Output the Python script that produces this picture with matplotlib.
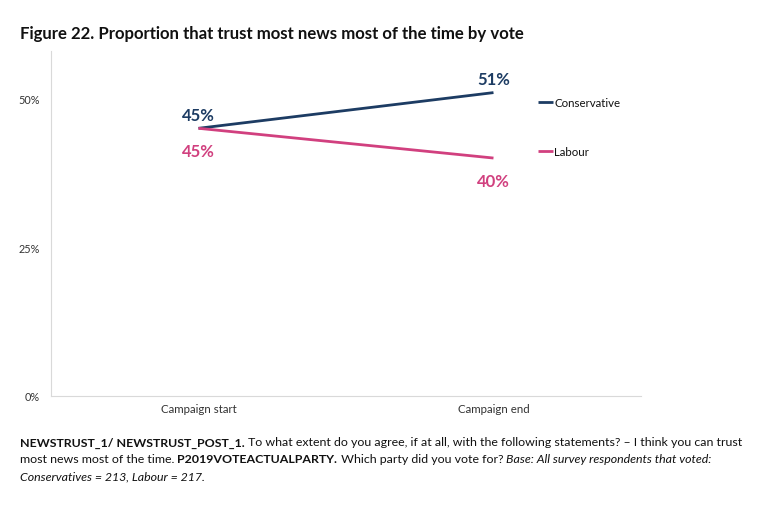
"""Figure 22: trust in news by vote, campaign start vs end."""

import matplotlib
matplotlib.use("Agg")
import matplotlib.pyplot as plt
from matplotlib.ticker import FuncFormatter

# --------------------------------------------------------------------------- #
# Data
# --------------------------------------------------------------------------- #
periods = ["Campaign start", "Campaign end"]
conservative = [45, 51]
labour = [45, 40]
y_ticks = [0, 25, 50]

NAVY = "#1d3c63"
PINK = "#d1407f"
SPINE = "#d9d9d9"
INK = "#111111"
TICK_INK = "#333333"

plt.rcParams["font.family"] = ["Lato", "DejaVu Sans"]

fig = plt.figure(figsize=(7.76, 5.10), dpi=100)
ax = fig.add_axes([0.0657, 0.2216, 0.7603, 0.6765])

x = list(range(len(periods)))
ax.plot(x, conservative, color=NAVY, linewidth=2.0, label="Conservative",
        solid_capstyle="butt")
ax.plot(x, labour, color=PINK, linewidth=2.0, label="Labour",
        solid_capstyle="butt")

# data labels: conservative above, labour below
for xi, v in zip(x, conservative):
    ax.annotate(f"{v}%", (xi, v), xytext=(0, 9.5), textcoords="offset points",
                ha="center", va="center", color=NAVY, fontsize=12,
                fontweight="bold")
for xi, v in zip(x, labour):
    ax.annotate(f"{v}%", (xi, v), xytext=(0, -16.5), textcoords="offset points",
                ha="center", va="center", color=PINK, fontsize=12,
                fontweight="bold")

ax.set_xlim(-0.5, 1.5)
ax.set_ylim(0, 58)
ax.set_xticks(x)
ax.set_xticklabels(periods, fontsize=8.3, color=TICK_INK)
ax.set_yticks(y_ticks)
ax.yaxis.set_major_formatter(FuncFormatter(lambda v, _: f"{v:.0f}%"))
ax.tick_params(axis="y", labelsize=7.8, labelcolor=TICK_INK, length=0, pad=8)
ax.tick_params(axis="x", length=0, pad=5)
for s in ("top", "right"):
    ax.spines[s].set_visible(False)
for s in ("left", "bottom"):
    ax.spines[s].set_color(SPINE)
    ax.spines[s].set_linewidth(0.8)

leg = ax.legend(loc="upper left", bbox_to_anchor=(0.826, 0.866), frameon=False,
                fontsize=8.3, handlelength=1.3, handletextpad=0.1,
                labelspacing=3.32, borderaxespad=0, borderpad=0)
for t in leg.get_texts():
    t.set_color(INK)

fig.text(0.026, 0.933, "Figure 22. Proportion that trust most news most of the time by vote",
         fontsize=12.1, fontweight="bold", color=INK, ha="left", va="center")

# footnote built from styled runs
footnote = [
    [("NEWSTRUST_1/ NEWSTRUST_POST_1.", "bold", "normal"),
     (" To what extent do you agree, if at all, with the following statements? \u2013 I think you can trust",
      "normal", "normal")],
    [("most news most of the time. ", "normal", "normal"),
     ("P2019VOTEACTUALPARTY.", "bold", "normal"),
     (" Which party did you vote for? ", "normal", "normal"),
     ("Base: All survey respondents that voted:", "normal", "italic")],
    [("Conservatives = 213, Labour = 217.", "normal", "italic")],
]

fig.canvas.draw()
renderer = fig.canvas.get_renderer()
y0 = 443
for i, line in enumerate(footnote):
    xpos = 20
    ypix = y0 + i * 17
    for txt, weight, style in line:
        t = fig.text(xpos / 776, 1 - ypix / 510, txt, fontsize=8.95,
                     fontweight=weight, fontstyle=style, color=INK,
                     ha="left", va="center")
        bb = t.get_window_extent(renderer=renderer)
        xpos += bb.width

fig.savefig("out.png", dpi=100)
